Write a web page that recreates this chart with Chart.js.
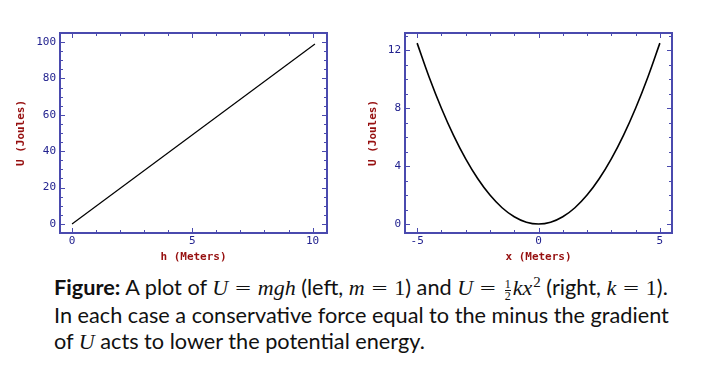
<!DOCTYPE html>
<html>
<head>
<meta charset="utf-8">
<script src="https://cdn.jsdelivr.net/npm/chart.js@4"></script>
<style>
  body { margin: 0; background: #fff; width: 707px; height: 368px; position: relative; overflow: hidden; }
  .box { position: absolute; top: 20px; height: 244px; }
  #left { left: 0; width: 345px; }
  #right { left: 350px; width: 357px; }
  .cap { position: absolute; left: 54px; top: 274px; font-family: Lato, sans-serif; font-size: 21.7px; line-height: 26px; color: #111; white-space: nowrap; }
  .cap b { font-weight: 700; }
  .m { font-family: "Liberation Serif", serif; font-style: italic; font-size: 22px; }
  .r { font-family: "Liberation Serif", serif; font-size: 22px; }
  .eq { display: inline-block; font-family: "DejaVu Sans", sans-serif; font-weight: 300; font-size: 21px; margin: 0 6px; }
  .frac { display: inline-block; vertical-align: -5px; font-family: "Liberation Serif", serif; font-size: 12px; line-height: 11px; text-align: center; margin: 0 2px; }
  .frac span { display: block; }
  .frac .top { border-bottom: 1px solid #111; }
  sup { font-family: "Liberation Serif", serif; font-size: 15px; line-height: 0; vertical-align: 8px; margin-left: 1px; }
</style>
</head>
<body>
<div class="box" id="left"><canvas id="c1"></canvas></div>
<div class="box" id="right"><canvas id="c2"></canvas></div>
<div class="cap">
<b>Figure:</b> A plot of <span class="m">U</span><span class="eq">=</span><span class="m">mgh</span> (left, <span class="m">m</span><span class="eq">=</span><span class="r">1</span>) and <span class="m">U</span><span class="eq">=</span><span class="frac"><span class="top">1</span><span>2</span></span><span class="m">kx</span><sup>2</sup> (right, <span class="m">k</span><span class="eq">=</span><span class="r">1</span>).<br>
In each case a conservative force equal to the minus the gradient<br>
of <span class="m">U</span> acts to lower the potential energy.
</div>
<script>
// left plot: U = mgh
const hValues = [0, 10.1];
const uLeft = [0, 99];
const hMajor = [0, 5, 10];
const hMinor = [1, 2, 3, 4, 6, 7, 8, 9];
const uLeftMajor = [0, 20, 40, 60, 80, 100];
const uLeftMinor = [5, 10, 15, 25, 30, 35, 45, 50, 55, 65, 70, 75, 85, 90, 95];

// right plot: U = kx^2/2
const xValues = [-5, -4.5, -4, -3.5, -3, -2.5, -2, -1.5, -1, -0.5, 0, 0.5, 1, 1.5, 2, 2.5, 3, 3.5, 4, 4.5, 5];
const uRight = [12.5, 10.125, 8, 6.125, 4.5, 3.125, 2, 1.125, 0.5, 0.125, 0, 0.125, 0.5, 1.125, 2, 3.125, 4.5, 6.125, 8, 10.125, 12.5];
const xMajor = [-5, 0, 5];
const xMinor = [-4, -3, -2, -1, 1, 2, 3, 4];
const uRightMajor = [0, 4, 8, 12];
const uRightMinor = [1, 2, 3, 5, 6, 7, 9, 10, 11, 13];

const axisColor = '#4a4aae';
const tickTextColor = '#22228f';
const titleColor = '#960f0f';

// inward ticks on all four sides plus the frame
const frameTicks = {
  id: 'frameTicks',
  afterDraw(chart, args, o) {
    const {ctx, chartArea: a, scales: {x, y}} = chart;
    ctx.save();
    ctx.strokeStyle = axisColor;
    ctx.lineWidth = 1;
    function vt(vals, len) {
      vals.forEach(v => {
        const p = Math.round(x.getPixelForValue(v)) + 0.5;
        ctx.beginPath();
        ctx.moveTo(p, a.bottom); ctx.lineTo(p, a.bottom - len);
        ctx.moveTo(p, a.top); ctx.lineTo(p, a.top + len);
        ctx.stroke();
      });
    }
    function ht(vals, len) {
      vals.forEach(v => {
        const p = Math.round(y.getPixelForValue(v)) + 0.5;
        if (p < a.top || p > a.bottom) return;
        ctx.beginPath();
        ctx.moveTo(a.left, p); ctx.lineTo(a.left + len, p);
        ctx.moveTo(a.right, p); ctx.lineTo(a.right - len, p);
        ctx.stroke();
      });
    }
    vt(o.xMajor, 5); vt(o.xMinor, 3);
    ht(o.yMajor, 5); ht(o.yMinor, 3);
    ctx.lineWidth = 2;
    ctx.strokeRect(a.left, a.top, a.right - a.left, a.bottom - a.top);
    ctx.restore();
  }
};

function makeChart(id, xs, ys, lim, ticks, xTitle, target, lw) {
  const pad = {top: 10, right: 10, bottom: 0, left: 10};
  const chart = new Chart(document.getElementById(id), {
    type: 'scatter',
    data: {
      datasets: [{
        data: xs.map((v, i) => ({x: v, y: ys[i]})),
        showLine: true,
        borderColor: '#000',
        borderWidth: lw,
        pointRadius: 0,
        tension: 0.4
      }]
    },
    options: {
      responsive: true,
      maintainAspectRatio: false,
      animation: false,
      layout: {padding: pad},
      plugins: {
        legend: {display: false},
        tooltip: {enabled: false},
        frameTicks: ticks
      },
      scales: {
        x: {
          type: 'linear',
          min: lim[0], max: lim[1],
          afterBuildTicks: s => { s.ticks = ticks.xMajor.map(v => ({value: v})); },
          grid: {display: false, drawTicks: false},
          border: {display: false},
          ticks: {color: tickTextColor, padding: 2, font: {family: 'DejaVu Sans Mono', size: 11}, maxRotation: 0},
          title: {display: true, text: xTitle, color: titleColor, padding: 0, font: {family: 'DejaVu Sans Mono', size: 11, weight: 'bold'}}
        },
        y: {
          type: 'linear',
          min: lim[2], max: lim[3],
          afterBuildTicks: s => { s.ticks = ticks.yMajor.map(v => ({value: v})); },
          grid: {display: false, drawTicks: false},
          border: {display: false},
          ticks: {color: tickTextColor, padding: 4, font: {family: 'DejaVu Sans Mono', size: 11}},
          title: {display: true, text: 'U (Joules)', color: titleColor, padding: {top: 4, bottom: 4}, font: {family: 'DejaVu Sans Mono', size: 11, weight: 'bold'}}
        }
      }
    },
    plugins: [frameTicks]
  });
  // nudge the padding so the plot box lands where the reference has it
  for (let i = 0; i < 3; i++) {
    const a = chart.chartArea;
    pad.left += target.left - a.left;
    pad.right += a.right - target.right;
    pad.top += target.top - a.top;
    pad.bottom += a.bottom - target.bottom;
    chart.update();
  }
  return chart;
}

makeChart('c1', hValues, uLeft, [-0.5, 10.6, -5, 105],
  {xMajor: hMajor, xMinor: hMinor, yMajor: uLeftMajor, yMinor: uLeftMinor},
  'h (Meters)', {left: 60, right: 327, top: 13, bottom: 213}, 1.2);
makeChart('c2', xValues, uRight, [-5.5, 5.5, -0.62, 13.2],
  {xMajor: xMajor, xMinor: xMinor, yMajor: uRightMajor, yMinor: uRightMinor},
  'x (Meters)', {left: 55, right: 322, top: 13, bottom: 213}, 1.6);
</script>
</body>
</html>
